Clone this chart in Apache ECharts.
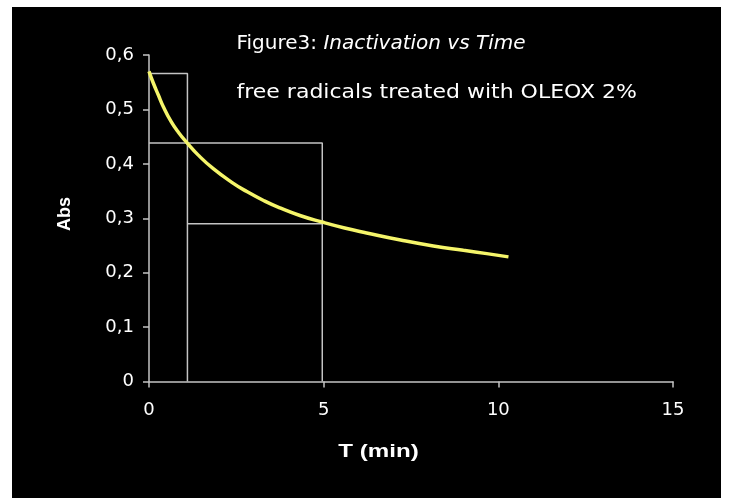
<!DOCTYPE html>
<html>
<head>
<meta charset="utf-8">
<script src="https://cdn.jsdelivr.net/npm/echarts@6/dist/echarts.min.js"></script>
<style>
  html, body { margin: 0; padding: 0; background: #ffffff; width: 731px; height: 498px; overflow: hidden; }
  #chart { position: absolute; left: 12px; top: 7px; width: 709px; height: 491px; }
</style>
</head>
<body>
<div id="chart"></div>
<script>
// ---- data ----
const timeMin   = [0, 0.12, 0.27, 0.41, 0.63, 0.84, 1.09, 1.41, 1.84, 2.37, 2.8, 3.3, 3.75, 4.32, 4.95, 5.6, 6.23, 7.2, 8.14, 9.0, 9.67, 10.29];
const absValues = [0.570, 0.549, 0.526, 0.505, 0.478, 0.458, 0.4385, 0.416, 0.391, 0.366, 0.349, 0.332, 0.319, 0.305, 0.293, 0.282, 0.273, 0.260, 0.249, 0.241, 0.235, 0.229];

// guide lines (half-life construction)
const guideFirstX  = [0, 1.1, 1.1];
const guideFirstY  = [0.566, 0.566, 0];
const guideSecondX = [0, 4.96, 4.96];
const guideSecondY = [0.4385, 0.4385, 0];
const guideThirdX  = [1.1, 4.96];
const guideThirdY  = [0.29, 0.29];

const titleLine1a = 'Figure3: ';
const titleLine1b = 'Inactivation vs Time';
const titleLine2  = 'free radicals treated with OLEOX 2%';
const xName = 'T (min)';
const yName = 'Abs';

function zip(xs, ys) { return xs.map((x, i) => [x, ys[i]]); }

const axisColor = '#c4c4c4';
const chart = echarts.init(document.getElementById('chart'));
chart.setOption({
  backgroundColor: '#000000',
  animation: false,
  grid: { left: 137, right: 48, top: 48, bottom: 116.5, containLabel: false },
  xAxis: {
    type: 'value', min: 0, max: 15, interval: 5,
    axisLine: { show: true, onZero: false, lineStyle: { color: axisColor, width: 1.5 } },
    axisTick: { show: true, inside: false, length: 6, lineStyle: { color: axisColor, width: 1.5 } },
    splitLine: { show: false },
    axisLabel: { color: '#ffffff', fontFamily: 'DejaVu Sans', fontSize: 18, margin: 20 }
  },
  yAxis: {
    type: 'value', min: 0, max: 0.6, interval: 0.1,
    axisLine: { show: true, onZero: false, lineStyle: { color: axisColor, width: 1.5 } },
    axisTick: { show: true, inside: false, length: 6, lineStyle: { color: axisColor, width: 1.5 } },
    splitLine: { show: false },
    axisLabel: {
      color: '#ffffff', fontFamily: 'DejaVu Sans', fontSize: 18, margin: 15,
      formatter: v => v === 0 ? '0' : v.toFixed(1).replace('.', ',')
    }
  },
  series: [
    { type: 'line', data: zip(guideFirstX, guideFirstY), symbol: 'none', lineStyle: { color: axisColor, width: 1.5 }, z: 1 },
    { type: 'line', data: zip(guideSecondX, guideSecondY), symbol: 'none', lineStyle: { color: axisColor, width: 1.5 }, z: 1 },
    { type: 'line', data: zip(guideThirdX, guideThirdY), symbol: 'none', lineStyle: { color: axisColor, width: 1.5 }, z: 1 },
    { type: 'line', data: zip(timeMin, absValues), symbol: 'none', smooth: 0.5,
      lineStyle: { color: '#f5f56a', width: 3.5 }, z: 3 }
  ],
  graphic: [
    {
      type: 'text', left: 224.5, top: 27,
      style: {
        text: '{n|' + titleLine1a + '}{i|' + titleLine1b + '}',
        fill: '#ffffff',
        rich: {
          n: { fontFamily: 'DejaVu Sans', fontSize: 20, fill: '#ffffff' },
          i: { fontFamily: 'DejaVu Sans', fontSize: 20, fontStyle: 'italic', fill: '#ffffff' }
        }
      }
    },
    {
      type: 'text', x: 224.5, y: 76, scaleX: 1.1,
      style: { text: titleLine2, fontFamily: 'DejaVu Sans', fontSize: 20, fill: '#ffffff' }
    },
    {
      type: 'text', x: 366.5, y: 444.5,
      style: { text: xName, fontFamily: 'Liberation Sans', fontWeight: 'bold', fontSize: 19,
               fill: '#ffffff', align: 'center', verticalAlign: 'middle' },
      scaleX: 1.27
    },
    {
      type: 'text', x: 53.5, y: 207, rotation: Math.PI / 2,
      style: { text: yName, fontFamily: 'Liberation Sans', fontWeight: 'bold', fontSize: 18,
               fill: '#ffffff', align: 'center', verticalAlign: 'middle' }
    }
  ]
});
</script>
</body>
</html>
